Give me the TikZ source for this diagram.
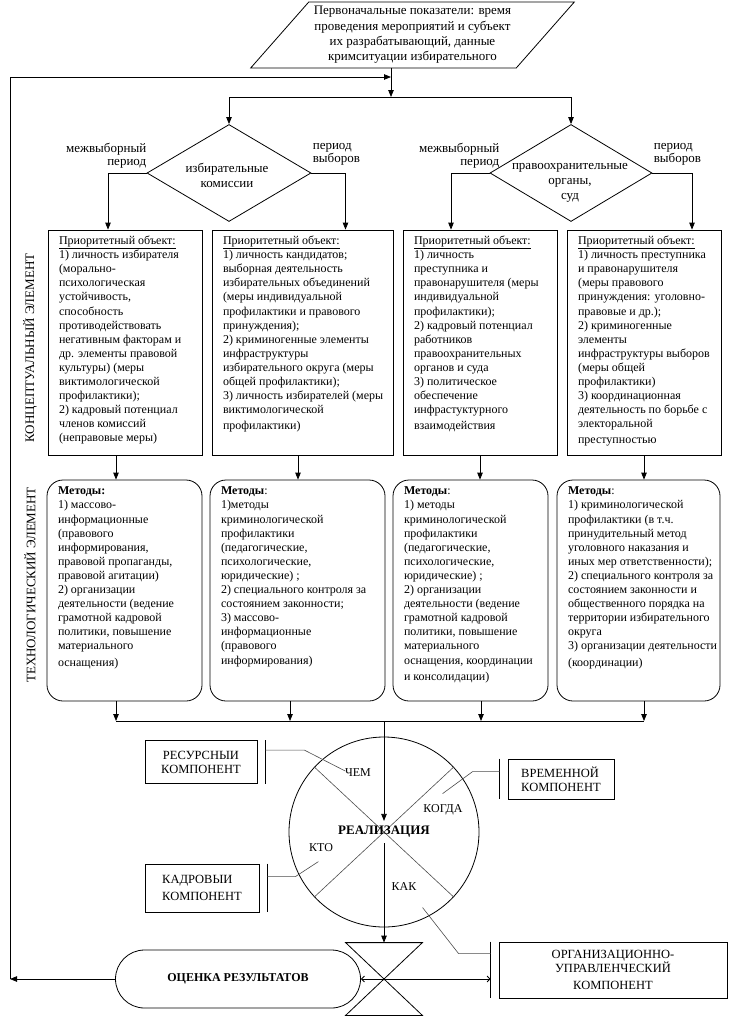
\documentclass[tikz,border=0pt]{standalone}
\usepackage{fontspec}
\setmainfont{Liberation Serif}
\usetikzlibrary{arrows.meta,calc,shapes.geometric,shapes.misc}

\begin{document}
\begin{tikzpicture}[x=1pt, y=-1pt, >={Triangle[length=7pt,width=5.5pt]}, line width=0.8pt,
    every node/.style={font=\fontsize{12}{15}\selectfont, inner sep=0pt},
    objbox/.style={draw, minimum width=#1, minimum height=225pt},
    methbox/.style={draw, rounded corners=16pt, minimum width=#1, minimum height=221pt},
    boxtext/.style={anchor=north west, align=left, font=\fontsize{12}{14.1}\selectfont},
    choice/.style={draw, diamond, minimum width=#1, minimum height=97pt},
    branch/.style={font=\fontsize{13}{13.5}\selectfont},
    comp/.style={draw, align=center, font=\fontsize{12.5}{14}\selectfont},
    leader/.style={line width=0.6pt, black!70},
    side/.style={rotate=90, font=\fontsize{13}{15}\selectfont}]
    \useasboundingbox (0,0) rectangle (750,1020);

    \node[draw, trapezium, trapezium left angle=46, trapezium right angle=134, trapezium stretches=true,
      minimum width=325pt, minimum height=66pt, align=center, font=\fontsize{13}{15.3}\selectfont] (init) at (412.5,35)
      {Первоначальные показатели: время\\проведения мероприятий и субъект\\их разрабатывающий, данные\\кримситуации избирательного};

    \coordinate (bus1) at (391,97);
    \coordinate (fbjoin) at (391,77);
    \coordinate (fbbot) at (10,979);

    \node[choice=164pt] (d1) at (229,173) {};
    \node[choice=162pt] (d2) at (571,173) {};
    \node[align=center, font=\fontsize{13}{15}\selectfont] (d1t) at (227,175.5) {избирательные\\комиссии};
    \node[align=center, font=\fontsize{13}{15}\selectfont] (d2t) at (570,183) {правоохранительные\\органы,\\суд};

    \node[branch, anchor=south east, align=right] (d1l) at ($(d1.west)+(0,-4)$) {межвыборный\\период};
    \node[branch, anchor=south west, align=left] (d1r) at ($(d1.east)+(1,-7)$) {период\\выборов};
    \node[branch, anchor=south east, align=right] (d2l) at ($(d2.west)+(10,-4)$) {межвыборный\\период};
    \node[branch, anchor=south west, align=left] (d2r) at ($(d2.east)+(1,-7)$) {период\\выборов};

    \draw[->] (init.south -| bus1) -- (bus1);
    \draw[->] (bus1) -| (d1.north);
    \draw[->] (bus1) -| (d2.north);

    % priority objects
    \node[objbox=154pt] (o1) at (125,342.5) {};
    \node[objbox=181pt] (o2) at (302.5,342.5) {};
    \node[objbox=154pt] (o3) at (480,342.5) {};
    \node[objbox=154pt] (o4) at (644,342.5) {};

    \draw[->] (d1.west) -| ($(o1.north)+(-17,0)$);
    \draw[->] (d1.east) -| ($(o2.north)+(43,0)$);
    \draw[->] (d2.west) -| ($(o3.north)+(-29,0)$);
    \draw[->] (d2.east) -| ($(o4.north)+(48,0)$);

    \node[boxtext] (o1t) at ($(o1.north west)+(11,6)$) {\underline{Приоритетный объект:}\\1) личность избирателя\\(морально-\\психологическая\\устойчивость,\\способность\\противодействовать\\негативным факторам и\\др. элементы правовой\\культуры) (меры\\виктимологической\\профилактики);\\2) кадровый потенциал\\членов комиссий\\(неправовые меры)};
    \node[boxtext] (o2t) at ($(o2.north west)+(11,6)$) {\underline{Приоритетный объект:}\\1) личность кандидатов;\\выборная деятельность\\избирательных объединений\\(меры индивидуальной\\профилактики и правового\\принуждения);\\2) криминогенные элементы\\инфраструктуры\\избирательного округа (меры\\общей профилактики);\\3) личность избирателей (меры\\виктимологической\\[2pt]профилактики)};
    \node[boxtext] (o3t) at ($(o3.north west)+(11,6)$) {\underline{Приоритетный объект:}\\1) личность\\преступника и\\правонарушителя (меры\\индивидуальной\\профилактики);\\2) кадровый потенциал\\работников\\правоохранительных\\органов и суда\\3) политическое\\обеспечение\\инфрастуктурного\\[2pt]взаимодействия};
    \node[boxtext] (o4t) at ($(o4.north west)+(11,6)$) {\underline{Приоритетный объект:}\\1) личность преступника\\и правонарушителя\\(меры правового\\принуждения: уголовно-\\правовые и др.);\\2) криминогенные\\элементы\\инфраструктуры выборов\\(меры общей\\профилактики)\\3) координационная\\деятельность по борьбе с\\электоральной\\[2pt]преступностью};

    % methods
    \node[methbox=155pt] (m1) at (124.5,590.5) {};
    \node[methbox=175pt] (m2) at (297.5,590.5) {};
    \node[methbox=155pt] (m3) at (470.5,590.5) {};
    \node[methbox=163pt] (m4) at (638.5,590.5) {};

    \node[boxtext] (m1t) at ($(m1.north west)+(11,7)$) {\textbf{Методы:}\\1) массово-\\информационные\\(правового\\информирования,\\правовой пропаганды,\\правовой агитации)\\2) организации\\деятельности (ведение\\грамотной кадровой\\политики, повышение\\материального\\[2pt]оснащения)};
    \node[boxtext] (m2t) at ($(m2.north west)+(11,7)$) {\textbf{Методы}:\\1)методы\\криминологической\\профилактики\\(педагогические,\\психологические,\\юридические) ;\\2) специального контроля за\\состоянием законности;\\3) массово-\\информационные\\(правового\\информирования)};
    \node[boxtext] (m3t) at ($(m3.north west)+(11,7)$) {\textbf{Методы}:\\1) методы\\криминологической\\профилактики\\(педагогические,\\психологические,\\юридические) ;\\2) организации\\деятельности (ведение\\грамотной кадровой\\политики, повышение\\материального\\оснащения, координации\\[2pt]и консолидации)};
    \node[boxtext] (m4t) at ($(m4.north west)+(11,7)$) {\textbf{Методы}:\\1) криминологической\\профилактики (в т.ч.\\принудительный метод\\уголовного наказания и\\иных мер ответственности);\\2) специального контроля за\\состоянием законности и\\общественного порядка на\\территории избирательного\\округа\\3) организации деятельности\\[2pt](координации)};

    \foreach \n/\xu/\xl in {1/116/116, 2/298/290, 3/480/481, 4/644/644} {
      \coordinate (up\n) at (\xu,0);
      \coordinate (lo\n) at (\xl,721);
      \draw[->] (o\n.south -| up\n) -- (m\n.north -| up\n);
      \draw[->] (m\n.south -| lo\n) -- (lo\n);
    }
    \draw (lo1) -- (lo4);
    \coordinate (bus2) at (384,721);

    \node[side] (concept) at (30,348) {КОНЦЕПТУАЛЬНЫЙ ЭЛЕМЕНТ};
    \node[side] (techno) at (30,585) {ТЕХНОЛОГИЧЕСКИЙ ЭЛЕМЕНТ};

    % realisation
    \node[circle, draw, minimum size=190pt] (impl) at (384,832) {};
    \draw[leader] (impl.137) -- (impl.-43);
    \draw[leader] (impl.43) -- (impl.223);
    \node[font=\fontsize{13}{15}\selectfont\bfseries, inner ysep=5pt] (real) at (384,832) {РЕАЛИЗАЦИЯ};
    \node (chem) at (358,773) {ЧЕМ};
    \node (kogda) at (443,810) {КОГДА};
    \node (kto) at (321,848) {КТО};
    \node (kak) at (404,887) {КАК};

    \node[comp, minimum width=112pt, minimum height=43pt] (res) at (201,762) {РЕСУРСНЫИ\\КОМПОНЕНТ};
    \node[comp, minimum width=106pt, minimum height=40pt, align=left] (tim) at (561,779) {ВРЕМЕННОЙ\\КОМПОНЕНТ};
    \node[comp, minimum width=114pt, minimum height=48pt, align=left] (kadr) at (202,888) {КАДРОВЫИ\\[3pt]КОМПОНЕНТ};
    \node[comp, minimum width=228pt, minimum height=56pt] (org) at (613,970) {ОРГАНИЗАЦИОННО-\\УПРАВЛЕНЧЕСКИЙ\\[3pt]КОМПОНЕНТ};

    \draw ([xshift=8pt]res.north east) -- ([xshift=8pt]res.south east);
    \draw[leader] ([xshift=8pt,yshift=-10pt]res.north east) -- ++(39,0) -- ++(41,21);
    \draw ([xshift=-8pt]tim.north west) -- ([xshift=-8pt]tim.south west);
    \draw[leader] ([xshift=-8pt,yshift=-13pt]tim.north west) -- ++(-27,0) -- ++(-30,22);
    \draw ([xshift=8pt]kadr.north east) -- ([xshift=8pt]kadr.south east);
    \draw[leader] ([xshift=8pt,yshift=-13pt]kadr.north east) -- ++(28,0) -- ++(23,-15);
    \draw ([xshift=-8pt]org.north west) -- ([xshift=-8pt]org.south west);
    \draw[leader] ([xshift=-8pt,yshift=-12pt]org.north west) -- ++(-32,0) -- ++(-36,-46);
    \coordinate (orgbr) at ($(org.west)+(-8,0)$);

    % evaluation
    \node[minimum width=76pt, minimum height=72pt] (hg) at (384,979) {};
    \draw (hg.north west) -- (hg.north east) -- (hg.south west) -- (hg.south east) -- cycle;
    \node[draw, rounded rectangle, minimum width=245pt, minimum height=58pt, font=\fontsize{12}{15}\selectfont\bfseries] (result) at (238,979) {ОЦЕНКА РЕЗУЛЬТАТОВ};

    \draw[->] (bus2) -- (real.north);
    \draw[->] (real.south) -- (hg.north);
    \draw[<->, >={Straight Barb[length=3pt,width=6pt]}] (result.east) -- (result.east -| orgbr);
    \draw[->] (result.west) -- (fbbot);
    \draw[->] (fbbot) |- (fbjoin);
  \end{tikzpicture}
\end{document}
